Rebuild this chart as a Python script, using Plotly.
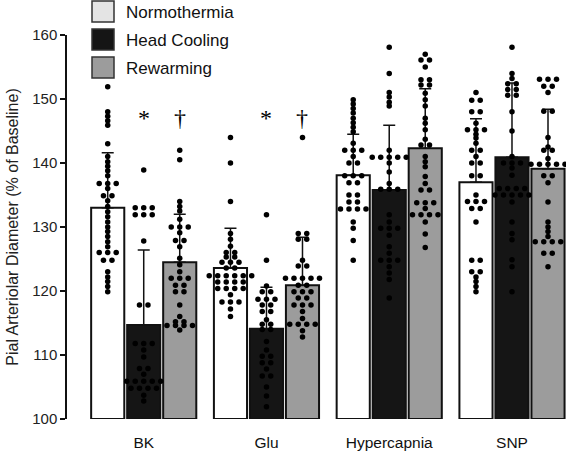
import plotly.graph_objects as go

categories = ["BK", "Glu", "Hypercapnia", "SNP"]
series_names = ["Normothermia", "Head Cooling", "Rewarming"]
bar_colors = ["#ffffff", "#151515", "#9c9c9c"]
legend_colors = ["#e4e4e4", "#151515", "#9c9c9c"]

norm_mean = [133.0, 123.6, 138.1, 137.0]
norm_sd = [8.6, 6.2, 6.4, 9.9]
cool_mean = [114.7, 114.1, 135.8, 140.9]
cool_sd = [11.7, 6.5, 10.1, 11.6]
rew_mean = [124.5, 120.9, 142.3, 139.1]
rew_sd = [7.5, 7.5, 9.3, 9.3]

bk_norm = [151.9, 148.0, 147.3, 146.6, 145.9, 143.0, 141.0, 140.2, 139.5, 138.8, 138.0,
           136.8, 136.8, 136.8, 136.0, 134.9, 134.9, 134.1, 133.2, 132.4, 131.6, 130.8,
           130.0, 129.3, 128.5, 127.7, 126.9, 126.0, 126.0, 126.0, 124.8, 124.8,
           123.0, 122.2, 121.5, 120.7, 119.9]
bk_cool = [138.9, 133.0, 133.0, 133.0, 131.9, 131.9, 131.9, 127.8, 117.8, 117.8,
           111.8, 111.8, 111.8, 110.8, 109.7, 107.9, 107.9, 107.0,
           105.9, 105.9, 105.9, 105.9, 105.9, 104.8, 104.8, 104.8, 104.8, 103.7, 102.8]
bk_rew = [142.0, 140.5, 134.0, 133.2, 132.5, 131.2, 130.0, 130.0, 130.0, 129.1,
          127.9, 127.9, 126.9, 125.1, 124.1, 123.0, 122.0, 122.0, 122.0,
          120.9, 120.9, 119.9, 119.9, 117.8, 116.0, 115.2, 115.2,
          114.6, 114.6, 114.6, 114.6, 113.9]
glu_norm = [144.0, 140.0, 134.0, 129.0, 128.1, 127.0, 126.0, 126.0, 125.3, 125.3,
            124.5, 124.5, 124.5, 123.6, 123.6, 122.4, 122.4, 122.4, 122.4, 122.4, 122.4,
            121.4, 121.4, 121.4, 121.4, 120.4, 120.4, 120.4, 120.4, 119.4,
            118.3, 118.3, 118.3, 117.2, 116.0]
glu_cool = [131.9, 124.8, 120.8, 119.9, 119.9, 118.7, 118.7, 118.7, 117.8, 117.8,
            116.8, 116.8, 115.5, 114.8, 114.8, 114.0, 114.0, 112.1, 110.8,
            109.8, 109.8, 108.8, 108.8, 107.8, 106.7, 106.7, 105.0, 103.6, 101.9]
glu_rew = [144.0, 129.0, 129.0, 128.1, 128.1, 124.8, 123.9, 123.9,
           122.0, 122.0, 122.0, 122.0, 122.0, 120.9, 120.9, 119.9, 119.9, 119.9,
           118.9, 118.9, 117.8, 117.8, 117.8, 116.8, 115.7,
           114.8, 114.8, 114.8, 114.8, 113.8, 112.8]
hyp_norm = [149.9, 149.2, 148.5, 147.8, 147.0, 146.3, 145.6, 144.9, 143.1,
            142.0, 142.0, 142.0, 141.0, 140.0, 140.0, 138.0, 138.0, 138.0,
            136.9, 136.9, 135.0, 135.0, 133.9, 133.9, 132.8, 132.8, 132.8, 132.8,
            130.8, 129.8, 127.9, 124.8]
hyp_cool = [158.1, 154.0, 151.0, 150.3, 149.5, 148.9, 142.0,
            140.9, 140.9, 140.9, 140.9, 140.9, 140.0, 138.6, 136.8,
            135.9, 135.9, 135.9, 131.9, 130.8, 129.8, 129.8, 129.8, 128.7,
            126.9, 125.9, 124.8, 124.8, 124.8, 123.8, 122.8, 121.8, 118.9]
hyp_rew = [157.0, 156.1, 156.1, 155.0, 153.0, 153.0, 152.2, 152.2, 150.9, 149.9,
           148.9, 147.0, 146.2, 145.2, 143.7, 142.8, 142.8, 141.0, 140.2, 139.4,
           137.9, 136.8, 135.8, 135.8, 133.8, 133.8, 133.8, 132.9,
           131.9, 131.9, 131.9, 131.9, 130.8, 128.9, 126.8]
snp_norm = [151.0, 149.8, 149.8, 148.0, 148.0, 146.2, 145.2, 145.2, 145.2, 144.5,
            143.9, 143.1, 142.0, 142.0, 141.0, 140.0, 140.0, 138.0, 138.0,
            135.0, 134.0, 134.0, 134.0, 132.9, 132.9, 130.8, 124.8, 124.8,
            123.0, 123.0, 122.2, 121.5, 120.7, 119.9]
snp_cool = [158.1, 154.0, 153.2, 152.4, 152.4, 151.5, 151.5, 150.6, 150.6, 148.0,
            145.0, 141.0, 140.0, 140.0, 140.0, 139.2, 138.1,
            136.0, 136.0, 136.0, 136.0, 135.0, 135.0, 135.0, 135.0, 135.0,
            133.9, 130.8, 129.0, 128.0, 124.9, 123.8, 119.9]
snp_rew = [153.1, 153.1, 153.1, 152.0, 152.0, 151.0, 148.1, 148.1, 144.0, 142.5,
           142.0, 142.0, 140.7, 139.8, 139.8, 139.8, 139.8, 139.8, 138.0, 138.0,
           136.9, 133.9, 130.8, 130.0, 129.3, 128.5,
           127.7, 127.7, 127.7, 127.7, 125.9, 125.9, 123.8]

means = [norm_mean, cool_mean, rew_mean]
sds = [norm_sd, cool_sd, rew_sd]
points = [
    [bk_norm, glu_norm, hyp_norm, snp_norm],
    [bk_cool, glu_cool, hyp_cool, snp_cool],
    [bk_rew, glu_rew, hyp_rew, snp_rew],
]

sig_marks = [("*", 0, 1), ("†", 0, 2), ("*", 1, 1), ("†", 1, 2)]
sig_level = 147.0

# layout geometry
W, H = 566, 457
ML, MR, MT, MB = 67, 0, 35, 38
XR = [-0.625, 3.44]
YR = [100, 160]
BASE = 100
bargap, bargroupgap = 0.12, 0.08
nser = len(series_names)
slot = (1 - bargap) / nser
px_per_x = (W - ML - MR) / (XR[1] - XR[0])
dot_step_px = 8.5

fig = go.Figure()
xs = list(range(len(categories)))

for j, name in enumerate(series_names):
    fig.add_trace(go.Bar(
        x=xs, y=[m - BASE for m in means[j]], base=BASE, name=name,
        marker=dict(color=bar_colors[j], line=dict(color="#111111", width=2)),
        error_y=dict(type="data", symmetric=False, array=sds[j],
                     arrayminus=[0] * len(categories), color="#111111",
                     thickness=1.5, width=6),
        showlegend=False, hoverinfo="skip",
    ))

for j, name in enumerate(series_names):
    off = (j - (nser - 1) / 2) * slot
    px, py = [], []
    for i, vals in enumerate(points[j]):
        rows = {}
        for v in vals:
            rows.setdefault(round(v, 2), []).append(v)
        for v, grp in rows.items():
            n = len(grp)
            for k in range(n):
                dx = (k - (n - 1) / 2) * dot_step_px / px_per_x
                px.append(i + off + dx)
                py.append(v)
    fig.add_trace(go.Scatter(
        x=px, y=py, mode="markers", name=name,
        marker=dict(color="#000000", size=5.5),
        showlegend=False, hoverinfo="skip",
    ))

annotations = []
for txt, ci, sj in sig_marks:
    off = (sj - (nser - 1) / 2) * slot
    annotations.append(dict(
        x=ci + off, y=sig_level, xref="x", yref="y", text=txt, showarrow=False,
        font=dict(family="Liberation Serif, Times New Roman, serif", size=24, color="#000000"),
        xanchor="center", yanchor="middle",
    ))

# legend drawn in pixel coordinates converted to paper
pw, ph = W - ML - MR, H - MT - MB
def xp(p):
    return (p - ML) / pw
def yp(p):
    return (H - MB - p) / ph

shapes = []
for j, name in enumerate(series_names):
    top = 1 + j * 28
    shapes.append(dict(type="rect", xref="paper", yref="paper",
                       x0=xp(92), x1=xp(114), y0=yp(top + 21), y1=yp(top),
                       fillcolor=legend_colors[j], line=dict(color="#333333", width=1.5)))
    annotations.append(dict(x=xp(124), y=yp(top + 11), xref="paper", yref="paper",
                            text=name, showarrow=False, xanchor="left", yanchor="middle",
                            font=dict(family="Liberation Sans, Arial, sans-serif", size=17,
                                      color="#111111")))

fig.update_layout(
    template="none",
    width=W, height=H,
    margin=dict(l=ML, r=MR, t=MT, b=MB, pad=0, autoexpand=False),
    barmode="group", bargap=bargap, bargroupgap=bargroupgap,
    plot_bgcolor="white", paper_bgcolor="white",
    font=dict(family="Liberation Sans, Arial, sans-serif", color="#222222"),
    annotations=annotations, shapes=shapes,
    xaxis=dict(range=XR, tickvals=xs, ticktext=categories, showgrid=False,
               zeroline=False, showline=False, ticks="", ticklabelstandoff=12,
               automargin=False, tickfont=dict(size=15.5, color="#111111")),
    yaxis=dict(range=YR, tickvals=[100, 110, 120, 130, 140, 150, 160], showgrid=False,
               zeroline=False, showline=True, linecolor="#111111", linewidth=1.5,
               ticks="outside", ticklen=5, tickwidth=1.5, tickcolor="#111111",
               automargin=False, tickfont=dict(size=15, color="#222222"),
               title=dict(text="Pial Arteriolar Diameter (% of Baseline)",
                          font=dict(size=16, color="#222222"), standoff=10)),
)

fig.write_html("out.html", config={"displayModeBar": False},
               post_script="document.body.style.margin='0px';")
